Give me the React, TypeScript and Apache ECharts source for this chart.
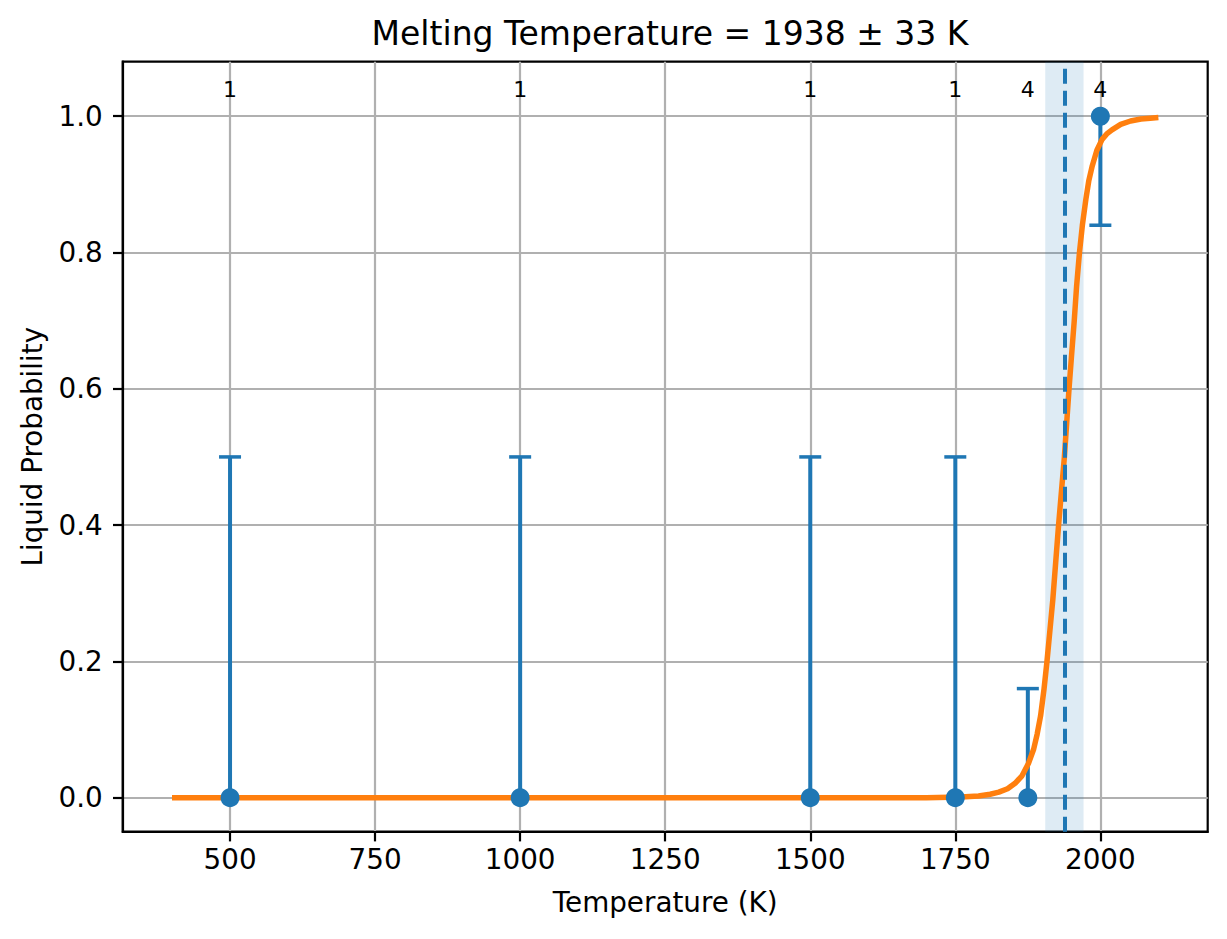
import React, { useEffect, useRef } from "react";
import * as echarts from "echarts";

// ---- data ----
const TEMPS = [500, 1000, 1500, 1750, 1875, 2000];
const PROBS = [0, 0, 0, 0, 0, 1];
const ERR_LOW = [0, 0, 0, 0, 0, 0.84];
const ERR_HIGH = [0.5, 0.5, 0.5, 0.5, 0.16, 1.0];
const COUNTS = [1, 1, 1, 1, 4, 4];
const COUNT_LABEL_Y = 1.039;

const CURVE_T = [400, 1600, 1700, 1760, 1790, 1810, 1825, 1840, 1853, 1865, 1876, 1885, 1891, 1897, 1903, 1908, 1913, 1918, 1923, 1928, 1933, 1938, 1942, 1946, 1950, 1955, 1959, 1964, 1969, 1975, 1980, 1986, 1994, 2003, 2011, 2020, 2035, 2052, 2070, 2086, 2100];
const CURVE_P = [0, 0, 0, 0.001, 0.0025, 0.005, 0.008, 0.013, 0.021, 0.032, 0.05, 0.071, 0.093, 0.12, 0.16, 0.2, 0.245, 0.29, 0.345, 0.4, 0.45, 0.5, 0.55, 0.6, 0.645, 0.7, 0.75, 0.8, 0.84, 0.878, 0.905, 0.927, 0.95, 0.966, 0.974, 0.98, 0.988, 0.993, 0.996, 0.997, 0.998];

const MELT_T = 1938;
const MELT_ERR = 33;

const X_TICKS = [500, 750, 1000, 1250, 1500, 1750, 2000];
const Y_TICKS = [0, 0.2, 0.4, 0.6, 0.8, 1.0];

const TITLE = "Melting Temperature = 1938 ± 33 K";
const X_NAME = "Temperature (K)";
const Y_NAME = "Liquid Probability";

const BLUE = "#1f77b4";
const ORANGE = "#ff7f0e";
const FONT = "DejaVu Sans";

export default function App() {
  const ref = useRef<HTMLDivElement>(null);

  useEffect(() => {
    if (!ref.current) return;
    const chart = echarts.init(ref.current, null, { renderer: "svg" });

    const errData = TEMPS.map((t, i) => [t, PROBS[i], ERR_LOW[i], ERR_HIGH[i]]);
    const ptData = TEMPS.map((t, i) => [t, PROBS[i]]);
    const curveData = CURVE_T.map((t, i) => [t, CURVE_P[i]]);
    const countData = TEMPS.map((t, i) => [t, COUNT_LABEL_Y, COUNTS[i]]);

    const option: any = {
      animation: false,
      textStyle: { fontFamily: FONT },
      title: {
        text: TITLE,
        left: 665,
        textAlign: "center",
        top: 12,
        textStyle: { fontFamily: FONT, fontSize: 33, fontWeight: "normal", color: "#000" },
      },
      grid: {
        left: 122.7,
        top: 61.7,
        width: 1085,
        height: 770,
        show: true,
        borderColor: "#000",
        borderWidth: 2.2,
        containLabel: false,
      },
      xAxis: {
        type: "value",
        min: 315,
        max: 2185,
        name: X_NAME,
        nameLocation: "middle",
        nameGap: 57,
        nameTextStyle: { fontFamily: FONT, fontSize: 27.8, color: "#000" },
        axisLine: { show: true, onZero: false, lineStyle: { color: "#000", width: 2.2 } },
        axisTick: { show: true, length: 9.7, customValues: X_TICKS, lineStyle: { color: "#000", width: 2.2 } },
        axisLabel: {
          customValues: X_TICKS,
          fontFamily: FONT,
          fontSize: 27.8,
          color: "#000",
          margin: 14,
          formatter: (v: number) => String(v),
        },
        splitLine: { show: true, lineStyle: { color: "#b0b0b0", width: 2.2 } },
      },
      yAxis: {
        type: "value",
        min: -0.05,
        max: 1.08,
        name: Y_NAME,
        nameLocation: "middle",
        nameGap: 76,
        nameTextStyle: { fontFamily: FONT, fontSize: 27.8, color: "#000" },
        axisLine: { show: true, onZero: false, lineStyle: { color: "#000", width: 2.2 } },
        axisTick: { show: true, length: 9.7, customValues: Y_TICKS, lineStyle: { color: "#000", width: 2.2 } },
        axisLabel: {
          customValues: Y_TICKS,
          fontFamily: FONT,
          fontSize: 27.8,
          color: "#000",
          margin: 20,
          formatter: (v: number) => v.toFixed(1),
        },
        splitLine: { show: true, lineStyle: { color: "#b0b0b0", width: 2.2 } },
      },
      series: [
        {
          type: "line",
          z: 1,
          data: [],
          markArea: {
            silent: true,
            itemStyle: { color: "rgba(31,119,180,0.15)" },
            data: [[{ xAxis: MELT_T - MELT_ERR }, { xAxis: MELT_T + MELT_ERR }]],
          },
        },
        {
          type: "custom",
          z: 2,
          data: errData,
          renderItem: (params: any, api: any) => {
            const x = api.value(0);
            const y = api.value(1);
            const lo = api.value(2);
            const hi = api.value(3);
            const pLo = api.coord([x, lo]);
            const pHi = api.coord([x, hi]);
            const half = 11;
            const style = { stroke: BLUE, lineWidth: 4, fill: null };
            const children: any[] = [
              { type: "line", shape: { x1: pLo[0], y1: pLo[1], x2: pHi[0], y2: pHi[1] }, style },
            ];
            if (hi !== y) children.push({ type: "line", shape: { x1: pHi[0] - half, y1: pHi[1], x2: pHi[0] + half, y2: pHi[1] }, style: { stroke: BLUE, lineWidth: 3.5 } });
            if (lo !== y) children.push({ type: "line", shape: { x1: pLo[0] - half, y1: pLo[1], x2: pLo[0] + half, y2: pLo[1] }, style: { stroke: BLUE, lineWidth: 3.5 } });
            return { type: "group", children };
          },
        },
        {
          type: "line",
          z: 3,
          data: curveData,
          showSymbol: false,
          smooth: false,
          lineStyle: { color: ORANGE, width: 5.5, join: "round" },
          itemStyle: { color: ORANGE },
        },
        {
          type: "line",
          z: 4,
          data: [],
          markLine: {
            silent: true,
            symbol: ["none", "none"],
            label: { show: false },
            lineStyle: { color: BLUE, width: 4, type: [15, 7] },
            data: [{ xAxis: MELT_T }],
          },
        },
        {
          type: "scatter",
          z: 5,
          data: ptData,
          symbol: "circle",
          symbolSize: 19,
          itemStyle: { color: BLUE, opacity: 1 },
        },
        {
          type: "custom",
          z: 6,
          data: countData,
          renderItem: (params: any, api: any) => {
            const p = api.coord([api.value(0), api.value(1)]);
            return {
              type: "text",
              x: p[0],
              y: p[1],
              style: {
                text: String(api.value(2)),
                fill: "#000",
                fontFamily: FONT,
                fontSize: 22,
                align: "center",
                verticalAlign: "middle",
              },
            };
          },
        },
      ],
    };

    chart.setOption(option);
    return () => chart.dispose();
  }, []);

  return (
    <div
      ref={ref}
      style={{ position: "absolute", left: 0, top: 0, width: 1227, height: 939, background: "#fff" }}
    />
  );
}
